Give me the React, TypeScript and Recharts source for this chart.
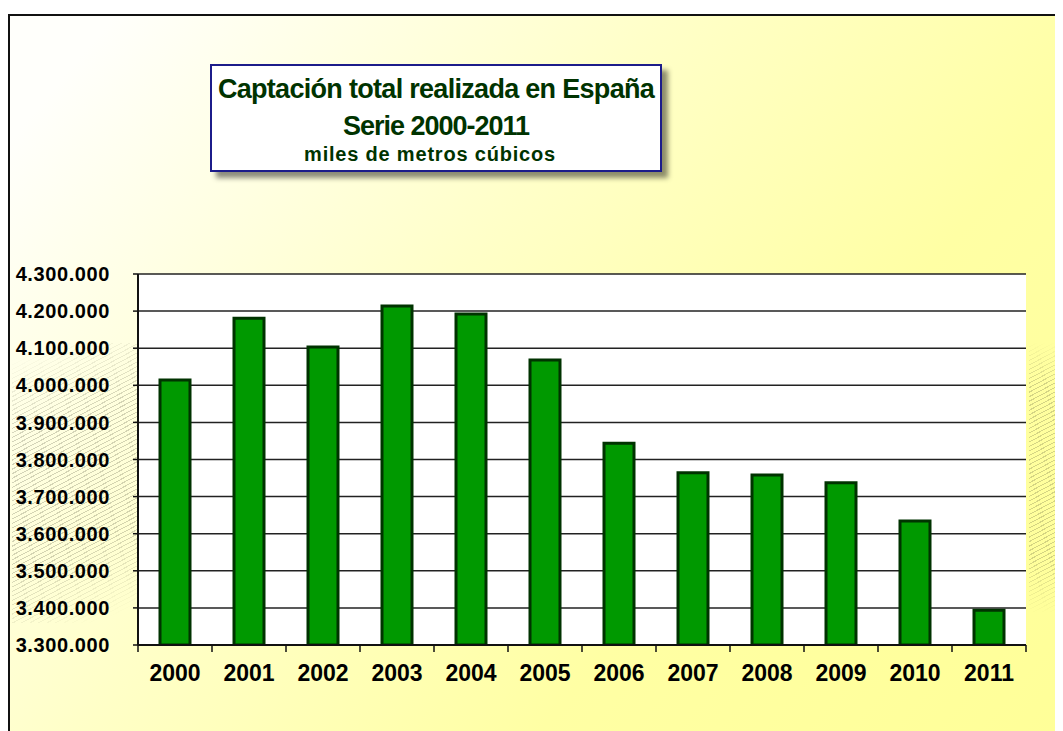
import { Bar, BarChart, CartesianGrid, XAxis, YAxis } from "recharts";

const years = ["2000", "2001", "2002", "2003", "2004", "2005", "2006", "2007", "2008", "2009", "2010", "2011"];
const captacion = [4014000, 4181000, 4103000, 4214000, 4192000, 4068000, 3844000, 3764000, 3758000, 3737000, 3634000, 3394000];
const yTicks = [3300000, 3400000, 3500000, 3600000, 3700000, 3800000, 3900000, 4000000, 4100000, 4200000, 4300000];

const data = years.map((year, i) => ({ year, value: captacion[i] }));

const fmt = (v: number) => String(v).replace(/\B(?=(\d{3})+(?!\d))/g, ".");

const font = "'Liberation Sans', Arial, sans-serif";

// year label, plus tick marks on the category boundaries (half a band either side)
function YearTick(props: any) {
  const { x, y, payload, index } = props;
  const half = payload.offset ?? 0;
  const last = index === years.length - 1;
  return (
    <g>
      <line x1={x - half} x2={x - half} y1={y} y2={y + 7} stroke="#111" strokeWidth={1.5} />
      {last && <line x1={x + half} x2={x + half} y1={y} y2={y + 7} stroke="#111" strokeWidth={1.5} />}
      <text
        x={x}
        y={y + 20}
        dy="0.71em"
        textAnchor="middle"
        fill="#000"
        fontSize={23}
        fontWeight="bold"
        fontFamily={font}
      >
        {payload.value}
      </text>
    </g>
  );
}

const hatch =
  "repeating-linear-gradient(152deg, rgba(60,60,40,0) 0px, rgba(60,60,40,0) 3px, rgba(60,60,40,0.22) 3px, rgba(60,60,40,0.22) 4px)";

export default function App() {
  return (
    <div style={{ position: "relative", width: 1055, height: 723, overflow: "hidden", fontFamily: font }}>
      <div
        style={{
          position: "absolute",
          left: 0,
          top: 6,
          width: 1100,
          height: 760,
          border: "2px solid #111",
          background: "linear-gradient(130deg, #fffffb 6%, #ffffc8 38%, #ffffa4 65%, #ffff96 100%)",
        }}
      />
      <div
        style={{
          position: "absolute",
          left: 4,
          top: 335,
          width: 126,
          height: 280,
          background: hatch,
          WebkitMaskImage: "linear-gradient(160deg, transparent 5%, #000 30%, #000 70%, transparent 95%)",
          maskImage: "linear-gradient(160deg, transparent 5%, #000 30%, #000 70%, transparent 95%)",
        }}
      />
      <div
        style={{
          position: "absolute",
          left: 1021,
          top: 335,
          width: 34,
          height: 270,
          background: hatch,
          WebkitMaskImage: "linear-gradient(180deg, transparent 0%, #000 15%, #000 80%, transparent 100%)",
          maskImage: "linear-gradient(180deg, transparent 0%, #000 15%, #000 80%, transparent 100%)",
        }}
      />
      <div
        style={{
          position: "absolute",
          left: 202,
          top: 56,
          width: 448,
          height: 104,
          border: "2px solid #1c1c8a",
          background: "#fff",
          boxShadow: "6px 6px 5px rgba(0,0,0,0.45)",
          color: "#003300",
          textAlign: "center",
          fontWeight: "bold",
        }}
      >
        <div style={{ fontSize: 27, lineHeight: "30px", marginTop: 8, letterSpacing: -0.7 }}>
          Captación total realizada en España
        </div>
        <div style={{ fontSize: 27, lineHeight: "30px", marginTop: 7, letterSpacing: -1 }}>Serie 2000-2011</div>
        <div style={{ fontSize: 20, lineHeight: "22px", marginTop: 2, letterSpacing: 0.8, paddingRight: 12 }}>
          miles de metros cúbicos
        </div>
      </div>
      <div style={{ position: "absolute", left: 0, top: 0 }}>
        <BarChart
          width={1055}
          height={723}
          data={data}
          margin={{ top: 266, right: 37, bottom: 36, left: 0 }}
          barSize={30}
        >
          <CartesianGrid vertical={false} fill="#ffffff" stroke="#222" strokeWidth={1.5} />
          <XAxis
            dataKey="year"
            interval={0}
            tick={<YearTick />}
            tickLine={false}
            tickSize={0}
            tickMargin={0}
            height={50}
            axisLine={{ stroke: "#111", strokeWidth: 2 }}
          />
          <YAxis
            domain={[3300000, 4300000]}
            ticks={yTicks}
            interval={0}
            width={130}
            tickFormatter={fmt}
            tickSize={5}
            tickMargin={23}
            allowDataOverflow
            axisLine={{ stroke: "#111", strokeWidth: 2 }}
            tickLine={{ stroke: "#111", strokeWidth: 1.5 }}
            tick={{ fill: "#000", fontSize: 20, fontWeight: "bold", fontFamily: font, letterSpacing: 0.6 }}
          />
          <YAxis
            yAxisId="right"
            orientation="right"
            domain={[3300000, 4300000]}
            width={0}
            tick={false}
            tickLine={false}
            axisLine={{ stroke: "#111", strokeWidth: 2 }}
          />
          <Bar
            dataKey="value"
            fill="#009900"
            stroke="#003300"
            strokeWidth={3}
            isAnimationActive={false}
          />
        </BarChart>
      </div>
    </div>
  );
}
